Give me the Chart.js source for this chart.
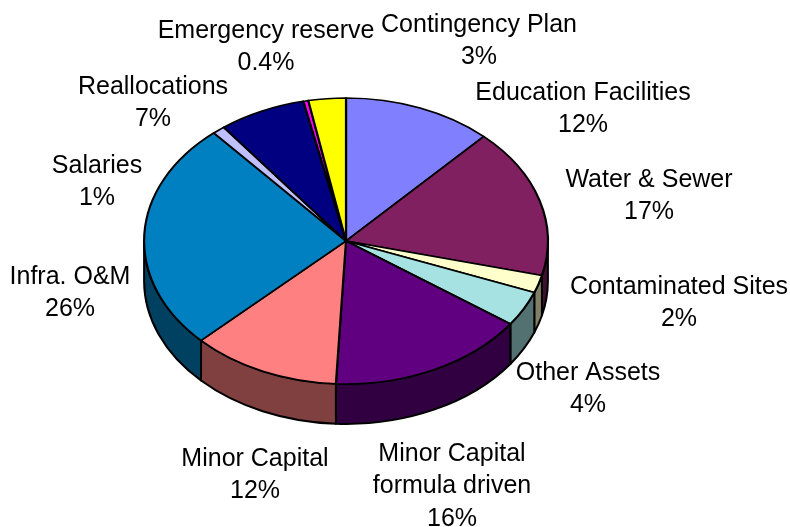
<!DOCTYPE html>
<html>
<head>
<meta charset="utf-8">
<title>Budget allocation</title>
<script src="https://cdn.jsdelivr.net/npm/chart.js@4"></script>
<style>
  html, body { margin: 0; padding: 0; background: #fff; }
  #wrap { width: 790px; height: 527px; position: relative; }
</style>
</head>
<body>
<div id="wrap"><canvas id="chart" width="790" height="527"></canvas></div>
<script>
// Budget shares by category, clockwise from twelve o'clock
const categories = [
  ['Education Facilities'],
  ['Water & Sewer'],
  ['Contaminated Sites'],
  ['Other Assets'],
  ['Minor Capital', 'formula driven'],
  ['Minor Capital'],
  ['Infra. O&M'],
  ['Salaries'],
  ['Reallocations'],
  ['Emergency reserve'],
  ['Contingency Plan']
];
const shares = [12, 17, 2, 4, 16, 12, 26, 1, 7, 0.4, 3];
const topColors = ['#8080FF', '#802060', '#FFFFCC', '#A6E2E2', '#600080', '#FF8080', '#0080C0', '#C0C0FF', '#000080', '#FF00FF', '#FFFF00'];
const wallColors = ['#404080', '#401030', '#808066', '#537171', '#300040', '#804040', '#004060', '#606080', '#000040', '#800080', '#808000'];

// Centre of the first text line of each label
const labelAnchors = [
  [583, 93], [649, 180], [679, 287], [588, 373], [452, 454],
  [255, 459], [70, 277], [97, 166], [153, 87], [266, 31], [479, 25]
];
const lineStep = 32.5;

// Tilted-disc look: the pie is squashed vertically and given a rim
const squash = 0.708;
const rimDepth = 40;

const tiltPlugin = {
  id: 'tilt',
  beforeDatasetsDraw(chart) {
    const ctx = chart.ctx;
    const arcs = chart.getDatasetMeta(0).data;
    ctx.save();
    ctx.lineWidth = 2;
    ctx.strokeStyle = '#000';
    ctx.lineJoin = 'round';
    arcs.forEach((arc, i) => {
      const a = Math.max(arc.startAngle, 0);
      const b = Math.min(arc.endAngle, Math.PI);
      if (a >= b) return;
      const rx = arc.outerRadius, ry = rx * squash;
      ctx.beginPath();
      ctx.ellipse(arc.x, arc.y, rx, ry, 0, a, b, false);
      ctx.ellipse(arc.x, arc.y + rimDepth, rx, ry, 0, b, a, true);
      ctx.closePath();
      ctx.fillStyle = wallColors[i];
      ctx.fill();
      ctx.stroke();
    });
    ctx.restore();
  },
  beforeDatasetDraw(chart) {
    const ctx = chart.ctx;
    const cy = chart.getDatasetMeta(0).data[0].y;
    ctx.save();
    ctx.translate(0, cy);
    ctx.scale(1, squash);
    ctx.translate(0, -cy);
  },
  afterDatasetDraw(chart) {
    chart.ctx.restore();
  },
  afterDraw(chart) {
    const ctx = chart.ctx;
    ctx.save();
    ctx.fillStyle = '#000';
    ctx.font = '25px "Liberation Sans", Arial, sans-serif';
    ctx.textAlign = 'center';
    ctx.textBaseline = 'middle';
    categories.forEach((lines, i) => {
      const [x, y] = labelAnchors[i];
      [...lines, shares[i] + '%'].forEach((text, n) => {
        ctx.fillText(text, x, y + n * lineStep);
      });
    });
    ctx.restore();
  }
};

new Chart(document.getElementById('chart'), {
  type: 'pie',
  data: {
    labels: categories.map(l => l.join(' ')),
    datasets: [{
      data: shares,
      backgroundColor: topColors,
      borderColor: '#000',
      borderWidth: 2.2,
      borderJoinStyle: 'round',
      clip: false
    }]
  },
  options: {
    responsive: false,
    animation: false,
    rotation: 0,
    layout: { padding: { left: 143, right: 241, top: 38, bottom: 83 } },
    plugins: { legend: { display: false }, tooltip: { enabled: false } }
  },
  plugins: [tiltPlugin]
});
</script>
</body>
</html>
